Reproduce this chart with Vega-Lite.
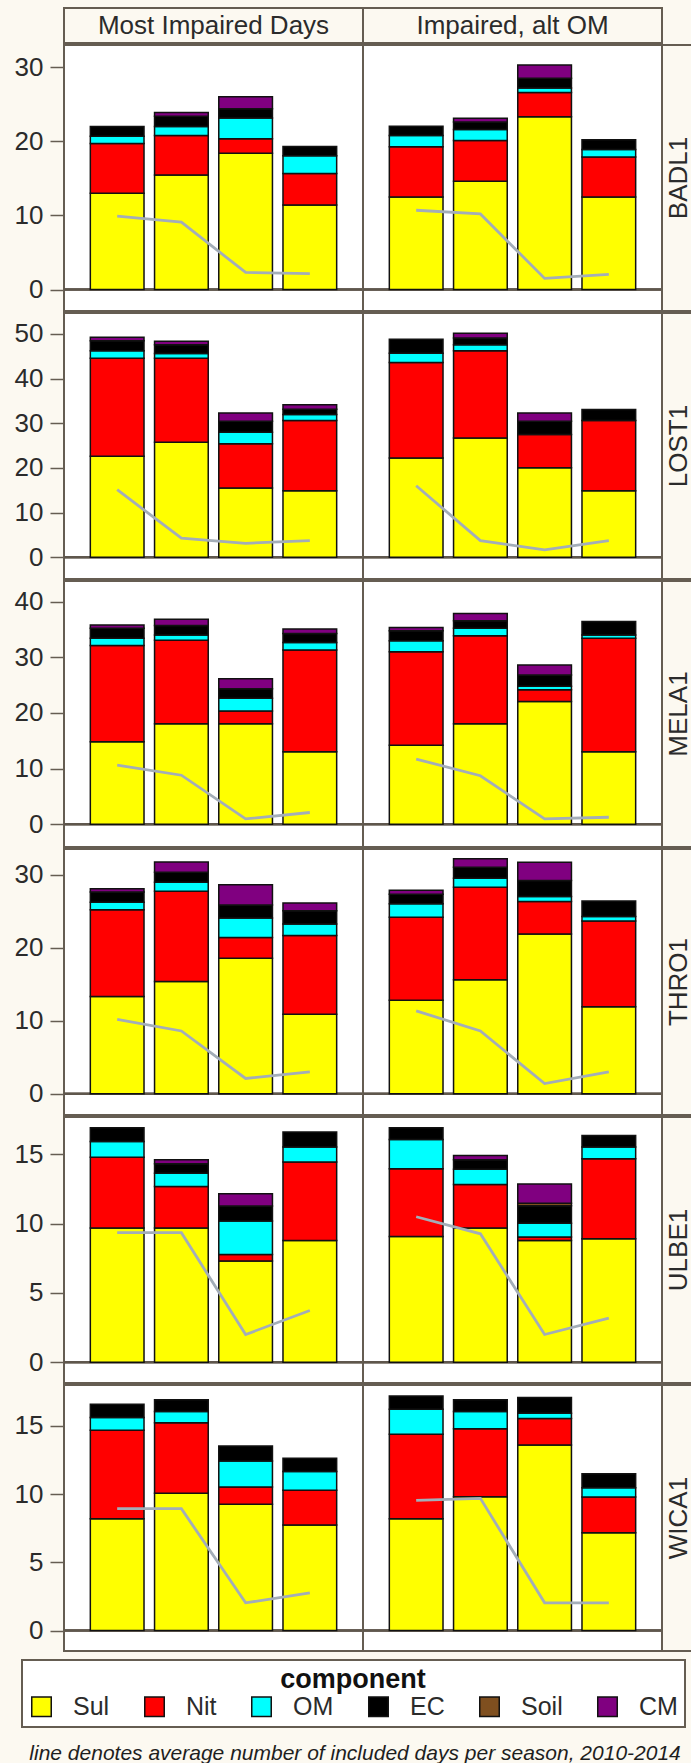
{
  "$schema": "https://vega.github.io/schema/vega-lite/v6.json",
  "background": "#fcf9f1",
  "padding": {"left": 13, "top": 7, "right": 0, "bottom": 0},
  "datasets": {
    "d": [
      {"site":"BADL1","scen":"Most Impaired Days","season":"Winter","Sul":13.0,"Nit":6.7,"OM":1.0,"EC":1.3,"Soil":0,"CM":0,"days":9.9},
      {"site":"BADL1","scen":"Most Impaired Days","season":"Spring","Sul":15.45,"Nit":5.35,"OM":1.2,"EC":1.4,"Soil":0,"CM":0.5,"days":9.1},
      {"site":"BADL1","scen":"Most Impaired Days","season":"Summer","Sul":18.4,"Nit":1.95,"OM":2.8,"EC":1.25,"Soil":0,"CM":1.6,"days":2.3},
      {"site":"BADL1","scen":"Most Impaired Days","season":"Fall","Sul":11.4,"Nit":4.25,"OM":2.4,"EC":1.25,"Soil":0,"CM":0,"days":2.15},
      {"site":"BADL1","scen":"Impaired, alt OM","season":"Winter","Sul":12.5,"Nit":6.76,"OM":1.52,"EC":1.25,"Soil":0,"CM":0,"days":10.7},
      {"site":"BADL1","scen":"Impaired, alt OM","season":"Spring","Sul":14.6,"Nit":5.5,"OM":1.5,"EC":1.0,"Soil":0,"CM":0.5,"days":10.2},
      {"site":"BADL1","scen":"Impaired, alt OM","season":"Summer","Sul":23.3,"Nit":3.3,"OM":0.6,"EC":1.3,"Soil":0,"CM":1.8,"days":1.5},
      {"site":"BADL1","scen":"Impaired, alt OM","season":"Fall","Sul":12.5,"Nit":5.4,"OM":1.0,"EC":1.3,"Soil":0,"CM":0,"days":2.05},
      {"site":"LOST1","scen":"Most Impaired Days","season":"Winter","Sul":22.6,"Nit":21.95,"OM":1.7,"EC":2.25,"Soil":0,"CM":0.75,"days":15.1},
      {"site":"LOST1","scen":"Most Impaired Days","season":"Spring","Sul":25.75,"Nit":18.8,"OM":1.1,"EC":1.95,"Soil":0,"CM":0.75,"days":4.25},
      {"site":"LOST1","scen":"Most Impaired Days","season":"Summer","Sul":15.5,"Nit":9.9,"OM":2.6,"EC":2.45,"Soil":0,"CM":1.85,"days":3.1},
      {"site":"LOST1","scen":"Most Impaired Days","season":"Fall","Sul":14.9,"Nit":15.7,"OM":1.35,"EC":1.2,"Soil":0,"CM":1.0,"days":3.7},
      {"site":"LOST1","scen":"Impaired, alt OM","season":"Winter","Sul":22.2,"Nit":21.4,"OM":2.1,"EC":3.1,"Soil":0,"CM":0,"days":16.0},
      {"site":"LOST1","scen":"Impaired, alt OM","season":"Spring","Sul":26.7,"Nit":19.55,"OM":1.35,"EC":1.5,"Soil":0,"CM":1.05,"days":3.7},
      {"site":"LOST1","scen":"Impaired, alt OM","season":"Summer","Sul":20.0,"Nit":7.46,"OM":0,"EC":3.0,"Soil":0,"CM":1.85,"days":1.65},
      {"site":"LOST1","scen":"Impaired, alt OM","season":"Fall","Sul":14.9,"Nit":15.7,"OM":0,"EC":2.5,"Soil":0,"CM":0,"days":3.7},
      {"site":"MELA1","scen":"Most Impaired Days","season":"Winter","Sul":14.8,"Nit":17.3,"OM":1.3,"EC":1.8,"Soil":0,"CM":0.6,"days":10.6},
      {"site":"MELA1","scen":"Most Impaired Days","season":"Spring","Sul":18.06,"Nit":15.0,"OM":0.95,"EC":1.7,"Soil":0,"CM":1.1,"days":8.8},
      {"site":"MELA1","scen":"Most Impaired Days","season":"Summer","Sul":18.06,"Nit":2.26,"OM":2.3,"EC":1.7,"Soil":0,"CM":1.8,"days":0.95},
      {"site":"MELA1","scen":"Most Impaired Days","season":"Fall","Sul":13.0,"Nit":18.3,"OM":1.36,"EC":1.6,"Soil":0,"CM":0.8,"days":2.1},
      {"site":"MELA1","scen":"Impaired, alt OM","season":"Winter","Sul":14.2,"Nit":16.8,"OM":1.95,"EC":1.8,"Soil":0,"CM":0.6,"days":11.7},
      {"site":"MELA1","scen":"Impaired, alt OM","season":"Spring","Sul":18.06,"Nit":15.8,"OM":1.35,"EC":1.35,"Soil":0,"CM":1.3,"days":8.7},
      {"site":"MELA1","scen":"Impaired, alt OM","season":"Summer","Sul":22.05,"Nit":2.1,"OM":0.65,"EC":2.0,"Soil":0,"CM":1.8,"days":0.95},
      {"site":"MELA1","scen":"Impaired, alt OM","season":"Fall","Sul":13.0,"Nit":20.4,"OM":0.6,"EC":2.4,"Soil":0,"CM":0,"days":1.25},
      {"site":"THRO1","scen":"Most Impaired Days","season":"Winter","Sul":13.3,"Nit":11.9,"OM":1.0,"EC":1.4,"Soil":0,"CM":0.45,"days":10.2},
      {"site":"THRO1","scen":"Most Impaired Days","season":"Spring","Sul":15.36,"Nit":12.35,"OM":1.25,"EC":1.35,"Soil":0,"CM":1.4,"days":8.6},
      {"site":"THRO1","scen":"Most Impaired Days","season":"Summer","Sul":18.56,"Nit":2.84,"OM":2.65,"EC":1.8,"Soil":0,"CM":2.75,"days":2.1},
      {"site":"THRO1","scen":"Most Impaired Days","season":"Fall","Sul":10.9,"Nit":10.75,"OM":1.6,"EC":1.8,"Soil":0,"CM":1.05,"days":3.0},
      {"site":"THRO1","scen":"Impaired, alt OM","season":"Winter","Sul":12.8,"Nit":11.35,"OM":1.85,"EC":1.3,"Soil":0,"CM":0.55,"days":11.35},
      {"site":"THRO1","scen":"Impaired, alt OM","season":"Spring","Sul":15.6,"Nit":12.65,"OM":1.25,"EC":1.5,"Soil":0,"CM":1.15,"days":8.6},
      {"site":"THRO1","scen":"Impaired, alt OM","season":"Summer","Sul":21.86,"Nit":4.44,"OM":0.7,"EC":2.2,"Soil":0,"CM":2.5,"days":1.4},
      {"site":"THRO1","scen":"Impaired, alt OM","season":"Fall","Sul":11.9,"Nit":11.75,"OM":0.6,"EC":2.15,"Soil":0,"CM":0,"days":3.0},
      {"site":"ULBE1","scen":"Most Impaired Days","season":"Winter","Sul":9.68,"Nit":5.12,"OM":1.14,"EC":0.99,"Soil":0,"CM":0,"days":9.35},
      {"site":"ULBE1","scen":"Most Impaired Days","season":"Spring","Sul":9.68,"Nit":3.0,"OM":0.96,"EC":0.68,"Soil":0,"CM":0.29,"days":9.35},
      {"site":"ULBE1","scen":"Most Impaired Days","season":"Summer","Sul":7.3,"Nit":0.48,"OM":2.41,"EC":1.08,"Soil":0,"CM":0.89,"days":2.0},
      {"site":"ULBE1","scen":"Most Impaired Days","season":"Fall","Sul":8.79,"Nit":5.66,"OM":1.08,"EC":1.08,"Soil":0,"CM":0,"days":3.73},
      {"site":"ULBE1","scen":"Impaired, alt OM","season":"Winter","Sul":9.08,"Nit":4.89,"OM":2.11,"EC":0.85,"Soil":0,"CM":0,"days":10.5},
      {"site":"ULBE1","scen":"Impaired, alt OM","season":"Spring","Sul":9.68,"Nit":3.15,"OM":1.09,"EC":0.7,"Soil":0,"CM":0.31,"days":9.27},
      {"site":"ULBE1","scen":"Impaired, alt OM","season":"Summer","Sul":8.79,"Nit":0.24,"OM":1.0,"EC":1.27,"Soil":0.17,"CM":1.4,"days":2.0},
      {"site":"ULBE1","scen":"Impaired, alt OM","season":"Fall","Sul":8.91,"Nit":5.78,"OM":0.84,"EC":0.84,"Soil":0,"CM":0,"days":3.18},
      {"site":"WICA1","scen":"Most Impaired Days","season":"Winter","Sul":8.2,"Nit":6.48,"OM":0.93,"EC":0.98,"Soil":0,"CM":0,"days":8.93},
      {"site":"WICA1","scen":"Most Impaired Days","season":"Spring","Sul":10.06,"Nit":5.18,"OM":0.81,"EC":0.86,"Soil":0,"CM":0,"days":8.93},
      {"site":"WICA1","scen":"Most Impaired Days","season":"Summer","Sul":9.25,"Nit":1.27,"OM":1.91,"EC":1.1,"Soil":0,"CM":0,"days":2.03},
      {"site":"WICA1","scen":"Most Impaired Days","season":"Fall","Sul":7.73,"Nit":2.55,"OM":1.37,"EC":0.98,"Soil":0,"CM":0,"days":2.76},
      {"site":"WICA1","scen":"Impaired, alt OM","season":"Winter","Sul":8.2,"Nit":6.19,"OM":1.83,"EC":0.98,"Soil":0,"CM":0,"days":9.54},
      {"site":"WICA1","scen":"Impaired, alt OM","season":"Spring","Sul":9.81,"Nit":4.99,"OM":1.25,"EC":0.86,"Soil":0,"CM":0,"days":9.69},
      {"site":"WICA1","scen":"Impaired, alt OM","season":"Summer","Sul":13.6,"Nit":1.94,"OM":0.39,"EC":1.15,"Soil":0,"CM":0,"days":2.03},
      {"site":"WICA1","scen":"Impaired, alt OM","season":"Fall","Sul":7.17,"Nit":2.62,"OM":0.68,"EC":1.03,"Soil":0,"CM":0,"days":2.03}
    ],
    "ranks": [
      {"component":"Sul","rank":1},{"component":"Nit","rank":2},{"component":"OM","rank":3},
      {"component":"EC","rank":4},{"component":"Soil","rank":5},{"component":"CM","rank":6}
    ]
  },
  "data": {"name": "d"},
  "title": {"text": "line denotes average number of included days per season, 2010-2014", "orient": "bottom", "anchor": "middle", "font": "Liberation Sans", "fontSize": 21, "fontStyle": "italic", "fontWeight": "normal", "color": "#1e1e1e", "offset": 15},
  "spacing": 0,
  "vconcat": [
    {"hconcat": [
      {"width": 299, "height": 35, "data": {"values": [{"t": "Most Impaired Days"}]}, "view": {"stroke": "#655d52", "strokeWidth": 2}, "mark": {"type": "text", "font": "Liberation Sans", "fontSize": 26, "color": "#2b2b2b", "baseline": "middle"}, "encoding": {"text": {"field": "t"}}},
      {"width": 299, "height": 35, "data": {"values": [{"t": "Impaired, alt OM"}]}, "view": {"stroke": "#655d52", "strokeWidth": 2}, "mark": {"type": "text", "font": "Liberation Sans", "fontSize": 26, "color": "#2b2b2b", "baseline": "middle"}, "encoding": {"text": {"field": "t"}}}
    ], "spacing": 0, "bounds": "flush"},
    {"hconcat": [
      {"width": 299, "height": 266, "view": {"fill": "white", "stroke": "#655d52", "strokeWidth": 2},
       "transform": [{"filter": "datum.site=='BADL1' && datum.scen=='Most Impaired Days'"}],
       "layer": [
        {"mark": {"type": "rule", "color": "#5f574c", "strokeWidth": 2}, "encoding": {"y": {"datum": 0, "type": "quantitative", "title": null}}},
        {"transform": [{"fold": ["Sul","Nit","OM","EC","Soil","CM"], "as": ["component","val"]}, {"filter": "datum.val > 0"}, {"lookup": "component", "from": {"data": {"name": "ranks"}, "key": "component", "fields": ["rank"]}}],
         "mark": {"type": "bar", "stroke": "#111111", "strokeWidth": 1.5},
         "encoding": {
          "x": {"field": "season", "type": "nominal", "scale": {"domain": ["Winter","Spring","Summer","Fall"], "paddingInner": 0.164, "paddingOuter": 0.41}, "axis": null},
          "y": {"field": "val", "type": "quantitative", "stack": "zero", "title": null, "scale": {"domain": [-2.9, 33], "nice": false, "zero": false}, "axis": {"values": [0,10,20,30], "title": null}},
          "color": {"field": "component", "type": "nominal", "title": "component", "scale": {"domain": ["Sul","Nit","OM","EC","Soil","CM"], "range": ["#ffff00","#ff0000","#00ffff","#000000","#7f4f1f","#800080"]}, "legend": {"orient": "none", "legendX": -42, "legendY": 1652, "direction": "horizontal"}},
          "order": {"field": "rank", "type": "quantitative"}}},
        {"mark": {"type": "line", "color": "#a3adb8", "strokeWidth": 2.8}, "encoding": {"x": {"field": "season", "type": "nominal"}, "y": {"field": "days", "type": "quantitative", "title": null}}}
       ]},
      {"width": 299, "height": 266, "view": {"fill": "white", "stroke": "#655d52", "strokeWidth": 2},
       "transform": [{"filter": "datum.site=='BADL1' && datum.scen=='Impaired, alt OM'"}],
       "layer": [
        {"mark": {"type": "rule", "color": "#5f574c", "strokeWidth": 2}, "encoding": {"y": {"datum": 0, "type": "quantitative", "title": null}}},
        {"transform": [{"fold": ["Sul","Nit","OM","EC","Soil","CM"], "as": ["component","val"]}, {"filter": "datum.val > 0"}, {"lookup": "component", "from": {"data": {"name": "ranks"}, "key": "component", "fields": ["rank"]}}],
         "mark": {"type": "bar", "stroke": "#111111", "strokeWidth": 1.5},
         "encoding": {
          "x": {"field": "season", "type": "nominal", "scale": {"domain": ["Winter","Spring","Summer","Fall"], "paddingInner": 0.164, "paddingOuter": 0.41}, "axis": null},
          "y": {"field": "val", "type": "quantitative", "stack": "zero", "title": null, "scale": {"domain": [-2.9, 33], "nice": false, "zero": false}, "axis": {"values": [0,10,20,30], "title": null, "labels": false, "ticks": false}},
          "color": {"field": "component", "type": "nominal", "title": "component", "scale": {"domain": ["Sul","Nit","OM","EC","Soil","CM"], "range": ["#ffff00","#ff0000","#00ffff","#000000","#7f4f1f","#800080"]}},
          "order": {"field": "rank", "type": "quantitative"}}},
        {"mark": {"type": "line", "color": "#a3adb8", "strokeWidth": 2.8}, "encoding": {"x": {"field": "season", "type": "nominal"}, "y": {"field": "days", "type": "quantitative", "title": null}}}
       ]},
      {"width": 34, "height": 266, "data": {"values": [{"t": "BADL1"}]}, "view": {"stroke": "#655d52", "strokeWidth": 2}, "mark": {"type": "text", "angle": 270, "font": "Liberation Sans", "fontSize": 26, "color": "#2b2b2b", "baseline": "middle"}, "encoding": {"text": {"field": "t"}}}
    ], "spacing": 0, "bounds": "flush"},
    {"hconcat": [
      {"width": 299, "height": 266, "view": {"fill": "white", "stroke": "#655d52", "strokeWidth": 2},
       "transform": [{"filter": "datum.site=='LOST1' && datum.scen=='Most Impaired Days'"}],
       "layer": [
        {"mark": {"type": "rule", "color": "#5f574c", "strokeWidth": 2}, "encoding": {"y": {"datum": 0, "type": "quantitative", "title": null}}},
        {"transform": [{"fold": ["Sul","Nit","OM","EC","Soil","CM"], "as": ["component","val"]}, {"filter": "datum.val > 0"}, {"lookup": "component", "from": {"data": {"name": "ranks"}, "key": "component", "fields": ["rank"]}}],
         "mark": {"type": "bar", "stroke": "#111111", "strokeWidth": 1.5},
         "encoding": {
          "x": {"field": "season", "type": "nominal", "scale": {"domain": ["Winter","Spring","Summer","Fall"], "paddingInner": 0.164, "paddingOuter": 0.41}, "axis": null},
          "y": {"field": "val", "type": "quantitative", "stack": "zero", "title": null, "scale": {"domain": [-4.9, 54.7], "nice": false, "zero": false}, "axis": {"values": [0,10,20,30,40,50], "title": null}},
          "color": {"field": "component", "type": "nominal", "title": "component", "scale": {"domain": ["Sul","Nit","OM","EC","Soil","CM"], "range": ["#ffff00","#ff0000","#00ffff","#000000","#7f4f1f","#800080"]}},
          "order": {"field": "rank", "type": "quantitative"}}},
        {"mark": {"type": "line", "color": "#a3adb8", "strokeWidth": 2.8}, "encoding": {"x": {"field": "season", "type": "nominal"}, "y": {"field": "days", "type": "quantitative", "title": null}}}
       ]},
      {"width": 299, "height": 266, "view": {"fill": "white", "stroke": "#655d52", "strokeWidth": 2},
       "transform": [{"filter": "datum.site=='LOST1' && datum.scen=='Impaired, alt OM'"}],
       "layer": [
        {"mark": {"type": "rule", "color": "#5f574c", "strokeWidth": 2}, "encoding": {"y": {"datum": 0, "type": "quantitative", "title": null}}},
        {"transform": [{"fold": ["Sul","Nit","OM","EC","Soil","CM"], "as": ["component","val"]}, {"filter": "datum.val > 0"}, {"lookup": "component", "from": {"data": {"name": "ranks"}, "key": "component", "fields": ["rank"]}}],
         "mark": {"type": "bar", "stroke": "#111111", "strokeWidth": 1.5},
         "encoding": {
          "x": {"field": "season", "type": "nominal", "scale": {"domain": ["Winter","Spring","Summer","Fall"], "paddingInner": 0.164, "paddingOuter": 0.41}, "axis": null},
          "y": {"field": "val", "type": "quantitative", "stack": "zero", "title": null, "scale": {"domain": [-4.9, 54.7], "nice": false, "zero": false}, "axis": {"values": [0,10,20,30,40,50], "title": null, "labels": false, "ticks": false}},
          "color": {"field": "component", "type": "nominal", "title": "component", "scale": {"domain": ["Sul","Nit","OM","EC","Soil","CM"], "range": ["#ffff00","#ff0000","#00ffff","#000000","#7f4f1f","#800080"]}},
          "order": {"field": "rank", "type": "quantitative"}}},
        {"mark": {"type": "line", "color": "#a3adb8", "strokeWidth": 2.8}, "encoding": {"x": {"field": "season", "type": "nominal"}, "y": {"field": "days", "type": "quantitative", "title": null}}}
       ]},
      {"width": 34, "height": 266, "data": {"values": [{"t": "LOST1"}]}, "view": {"stroke": "#655d52", "strokeWidth": 2}, "mark": {"type": "text", "angle": 270, "font": "Liberation Sans", "fontSize": 26, "color": "#2b2b2b", "baseline": "middle"}, "encoding": {"text": {"field": "t"}}}
    ], "spacing": 0, "bounds": "flush"},
    {"hconcat": [
      {"width": 299, "height": 266, "view": {"fill": "white", "stroke": "#655d52", "strokeWidth": 2},
       "transform": [{"filter": "datum.site=='MELA1' && datum.scen=='Most Impaired Days'"}],
       "layer": [
        {"mark": {"type": "rule", "color": "#5f574c", "strokeWidth": 2}, "encoding": {"y": {"datum": 0, "type": "quantitative", "title": null}}},
        {"transform": [{"fold": ["Sul","Nit","OM","EC","Soil","CM"], "as": ["component","val"]}, {"filter": "datum.val > 0"}, {"lookup": "component", "from": {"data": {"name": "ranks"}, "key": "component", "fields": ["rank"]}}],
         "mark": {"type": "bar", "stroke": "#111111", "strokeWidth": 1.5},
         "encoding": {
          "x": {"field": "season", "type": "nominal", "scale": {"domain": ["Winter","Spring","Summer","Fall"], "paddingInner": 0.164, "paddingOuter": 0.41}, "axis": null},
          "y": {"field": "val", "type": "quantitative", "stack": "zero", "title": null, "scale": {"domain": [-4.1, 43.7], "nice": false, "zero": false}, "axis": {"values": [0,10,20,30,40], "title": null}},
          "color": {"field": "component", "type": "nominal", "title": "component", "scale": {"domain": ["Sul","Nit","OM","EC","Soil","CM"], "range": ["#ffff00","#ff0000","#00ffff","#000000","#7f4f1f","#800080"]}},
          "order": {"field": "rank", "type": "quantitative"}}},
        {"mark": {"type": "line", "color": "#a3adb8", "strokeWidth": 2.8}, "encoding": {"x": {"field": "season", "type": "nominal"}, "y": {"field": "days", "type": "quantitative", "title": null}}}
       ]},
      {"width": 299, "height": 266, "view": {"fill": "white", "stroke": "#655d52", "strokeWidth": 2},
       "transform": [{"filter": "datum.site=='MELA1' && datum.scen=='Impaired, alt OM'"}],
       "layer": [
        {"mark": {"type": "rule", "color": "#5f574c", "strokeWidth": 2}, "encoding": {"y": {"datum": 0, "type": "quantitative", "title": null}}},
        {"transform": [{"fold": ["Sul","Nit","OM","EC","Soil","CM"], "as": ["component","val"]}, {"filter": "datum.val > 0"}, {"lookup": "component", "from": {"data": {"name": "ranks"}, "key": "component", "fields": ["rank"]}}],
         "mark": {"type": "bar", "stroke": "#111111", "strokeWidth": 1.5},
         "encoding": {
          "x": {"field": "season", "type": "nominal", "scale": {"domain": ["Winter","Spring","Summer","Fall"], "paddingInner": 0.164, "paddingOuter": 0.41}, "axis": null},
          "y": {"field": "val", "type": "quantitative", "stack": "zero", "title": null, "scale": {"domain": [-4.1, 43.7], "nice": false, "zero": false}, "axis": {"values": [0,10,20,30,40], "title": null, "labels": false, "ticks": false}},
          "color": {"field": "component", "type": "nominal", "title": "component", "scale": {"domain": ["Sul","Nit","OM","EC","Soil","CM"], "range": ["#ffff00","#ff0000","#00ffff","#000000","#7f4f1f","#800080"]}},
          "order": {"field": "rank", "type": "quantitative"}}},
        {"mark": {"type": "line", "color": "#a3adb8", "strokeWidth": 2.8}, "encoding": {"x": {"field": "season", "type": "nominal"}, "y": {"field": "days", "type": "quantitative", "title": null}}}
       ]},
      {"width": 34, "height": 266, "data": {"values": [{"t": "MELA1"}]}, "view": {"stroke": "#655d52", "strokeWidth": 2}, "mark": {"type": "text", "angle": 270, "font": "Liberation Sans", "fontSize": 26, "color": "#2b2b2b", "baseline": "middle"}, "encoding": {"text": {"field": "t"}}}
    ], "spacing": 0, "bounds": "flush"},
    {"hconcat": [
      {"width": 299, "height": 266, "view": {"fill": "white", "stroke": "#655d52", "strokeWidth": 2},
       "transform": [{"filter": "datum.site=='THRO1' && datum.scen=='Most Impaired Days'"}],
       "layer": [
        {"mark": {"type": "rule", "color": "#5f574c", "strokeWidth": 2}, "encoding": {"y": {"datum": 0, "type": "quantitative", "title": null}}},
        {"transform": [{"fold": ["Sul","Nit","OM","EC","Soil","CM"], "as": ["component","val"]}, {"filter": "datum.val > 0"}, {"lookup": "component", "from": {"data": {"name": "ranks"}, "key": "component", "fields": ["rank"]}}],
         "mark": {"type": "bar", "stroke": "#111111", "strokeWidth": 1.5},
         "encoding": {
          "x": {"field": "season", "type": "nominal", "scale": {"domain": ["Winter","Spring","Summer","Fall"], "paddingInner": 0.164, "paddingOuter": 0.41}, "axis": null},
          "y": {"field": "val", "type": "quantitative", "stack": "zero", "title": null, "scale": {"domain": [-2.9, 33.5], "nice": false, "zero": false}, "axis": {"values": [0,10,20,30], "title": null}},
          "color": {"field": "component", "type": "nominal", "title": "component", "scale": {"domain": ["Sul","Nit","OM","EC","Soil","CM"], "range": ["#ffff00","#ff0000","#00ffff","#000000","#7f4f1f","#800080"]}},
          "order": {"field": "rank", "type": "quantitative"}}},
        {"mark": {"type": "line", "color": "#a3adb8", "strokeWidth": 2.8}, "encoding": {"x": {"field": "season", "type": "nominal"}, "y": {"field": "days", "type": "quantitative", "title": null}}}
       ]},
      {"width": 299, "height": 266, "view": {"fill": "white", "stroke": "#655d52", "strokeWidth": 2},
       "transform": [{"filter": "datum.site=='THRO1' && datum.scen=='Impaired, alt OM'"}],
       "layer": [
        {"mark": {"type": "rule", "color": "#5f574c", "strokeWidth": 2}, "encoding": {"y": {"datum": 0, "type": "quantitative", "title": null}}},
        {"transform": [{"fold": ["Sul","Nit","OM","EC","Soil","CM"], "as": ["component","val"]}, {"filter": "datum.val > 0"}, {"lookup": "component", "from": {"data": {"name": "ranks"}, "key": "component", "fields": ["rank"]}}],
         "mark": {"type": "bar", "stroke": "#111111", "strokeWidth": 1.5},
         "encoding": {
          "x": {"field": "season", "type": "nominal", "scale": {"domain": ["Winter","Spring","Summer","Fall"], "paddingInner": 0.164, "paddingOuter": 0.41}, "axis": null},
          "y": {"field": "val", "type": "quantitative", "stack": "zero", "title": null, "scale": {"domain": [-2.9, 33.5], "nice": false, "zero": false}, "axis": {"values": [0,10,20,30], "title": null, "labels": false, "ticks": false}},
          "color": {"field": "component", "type": "nominal", "title": "component", "scale": {"domain": ["Sul","Nit","OM","EC","Soil","CM"], "range": ["#ffff00","#ff0000","#00ffff","#000000","#7f4f1f","#800080"]}},
          "order": {"field": "rank", "type": "quantitative"}}},
        {"mark": {"type": "line", "color": "#a3adb8", "strokeWidth": 2.8}, "encoding": {"x": {"field": "season", "type": "nominal"}, "y": {"field": "days", "type": "quantitative", "title": null}}}
       ]},
      {"width": 34, "height": 266, "data": {"values": [{"t": "THRO1"}]}, "view": {"stroke": "#655d52", "strokeWidth": 2}, "mark": {"type": "text", "angle": 270, "font": "Liberation Sans", "fontSize": 26, "color": "#2b2b2b", "baseline": "middle"}, "encoding": {"text": {"field": "t"}}}
    ], "spacing": 0, "bounds": "flush"},
    {"hconcat": [
      {"width": 299, "height": 266, "view": {"fill": "white", "stroke": "#655d52", "strokeWidth": 2},
       "transform": [{"filter": "datum.site=='ULBE1' && datum.scen=='Most Impaired Days'"}],
       "layer": [
        {"mark": {"type": "rule", "color": "#5f574c", "strokeWidth": 2}, "encoding": {"y": {"datum": 0, "type": "quantitative", "title": null}}},
        {"transform": [{"fold": ["Sul","Nit","OM","EC","Soil","CM"], "as": ["component","val"]}, {"filter": "datum.val > 0"}, {"lookup": "component", "from": {"data": {"name": "ranks"}, "key": "component", "fields": ["rank"]}}],
         "mark": {"type": "bar", "stroke": "#111111", "strokeWidth": 1.5},
         "encoding": {
          "x": {"field": "season", "type": "nominal", "scale": {"domain": ["Winter","Spring","Summer","Fall"], "paddingInner": 0.164, "paddingOuter": 0.41}, "axis": null},
          "y": {"field": "val", "type": "quantitative", "stack": "zero", "title": null, "scale": {"domain": [-1.5, 17.7], "nice": false, "zero": false}, "axis": {"values": [0,5,10,15], "title": null}},
          "color": {"field": "component", "type": "nominal", "title": "component", "scale": {"domain": ["Sul","Nit","OM","EC","Soil","CM"], "range": ["#ffff00","#ff0000","#00ffff","#000000","#7f4f1f","#800080"]}},
          "order": {"field": "rank", "type": "quantitative"}}},
        {"mark": {"type": "line", "color": "#a3adb8", "strokeWidth": 2.8}, "encoding": {"x": {"field": "season", "type": "nominal"}, "y": {"field": "days", "type": "quantitative", "title": null}}}
       ]},
      {"width": 299, "height": 266, "view": {"fill": "white", "stroke": "#655d52", "strokeWidth": 2},
       "transform": [{"filter": "datum.site=='ULBE1' && datum.scen=='Impaired, alt OM'"}],
       "layer": [
        {"mark": {"type": "rule", "color": "#5f574c", "strokeWidth": 2}, "encoding": {"y": {"datum": 0, "type": "quantitative", "title": null}}},
        {"transform": [{"fold": ["Sul","Nit","OM","EC","Soil","CM"], "as": ["component","val"]}, {"filter": "datum.val > 0"}, {"lookup": "component", "from": {"data": {"name": "ranks"}, "key": "component", "fields": ["rank"]}}],
         "mark": {"type": "bar", "stroke": "#111111", "strokeWidth": 1.5},
         "encoding": {
          "x": {"field": "season", "type": "nominal", "scale": {"domain": ["Winter","Spring","Summer","Fall"], "paddingInner": 0.164, "paddingOuter": 0.41}, "axis": null},
          "y": {"field": "val", "type": "quantitative", "stack": "zero", "title": null, "scale": {"domain": [-1.5, 17.7], "nice": false, "zero": false}, "axis": {"values": [0,5,10,15], "title": null, "labels": false, "ticks": false}},
          "color": {"field": "component", "type": "nominal", "title": "component", "scale": {"domain": ["Sul","Nit","OM","EC","Soil","CM"], "range": ["#ffff00","#ff0000","#00ffff","#000000","#7f4f1f","#800080"]}},
          "order": {"field": "rank", "type": "quantitative"}}},
        {"mark": {"type": "line", "color": "#a3adb8", "strokeWidth": 2.8}, "encoding": {"x": {"field": "season", "type": "nominal"}, "y": {"field": "days", "type": "quantitative", "title": null}}}
       ]},
      {"width": 34, "height": 266, "data": {"values": [{"t": "ULBE1"}]}, "view": {"stroke": "#655d52", "strokeWidth": 2}, "mark": {"type": "text", "angle": 270, "font": "Liberation Sans", "fontSize": 26, "color": "#2b2b2b", "baseline": "middle"}, "encoding": {"text": {"field": "t"}}}
    ], "spacing": 0, "bounds": "flush"},
    {"hconcat": [
      {"width": 299, "height": 266, "view": {"fill": "white", "stroke": "#655d52", "strokeWidth": 2},
       "transform": [{"filter": "datum.site=='WICA1' && datum.scen=='Most Impaired Days'"}],
       "layer": [
        {"mark": {"type": "rule", "color": "#5f574c", "strokeWidth": 2}, "encoding": {"y": {"datum": 0, "type": "quantitative", "title": null}}},
        {"transform": [{"fold": ["Sul","Nit","OM","EC","Soil","CM"], "as": ["component","val"]}, {"filter": "datum.val > 0"}, {"lookup": "component", "from": {"data": {"name": "ranks"}, "key": "component", "fields": ["rank"]}}],
         "mark": {"type": "bar", "stroke": "#111111", "strokeWidth": 1.5},
         "encoding": {
          "x": {"field": "season", "type": "nominal", "scale": {"domain": ["Winter","Spring","Summer","Fall"], "paddingInner": 0.164, "paddingOuter": 0.41}, "axis": null},
          "y": {"field": "val", "type": "quantitative", "stack": "zero", "title": null, "scale": {"domain": [-1.5, 18.0], "nice": false, "zero": false}, "axis": {"values": [0,5,10,15], "title": null}},
          "color": {"field": "component", "type": "nominal", "title": "component", "scale": {"domain": ["Sul","Nit","OM","EC","Soil","CM"], "range": ["#ffff00","#ff0000","#00ffff","#000000","#7f4f1f","#800080"]}},
          "order": {"field": "rank", "type": "quantitative"}}},
        {"mark": {"type": "line", "color": "#a3adb8", "strokeWidth": 2.8}, "encoding": {"x": {"field": "season", "type": "nominal"}, "y": {"field": "days", "type": "quantitative", "title": null}}}
       ]},
      {"width": 299, "height": 266, "view": {"fill": "white", "stroke": "#655d52", "strokeWidth": 2},
       "transform": [{"filter": "datum.site=='WICA1' && datum.scen=='Impaired, alt OM'"}],
       "layer": [
        {"mark": {"type": "rule", "color": "#5f574c", "strokeWidth": 2}, "encoding": {"y": {"datum": 0, "type": "quantitative", "title": null}}},
        {"transform": [{"fold": ["Sul","Nit","OM","EC","Soil","CM"], "as": ["component","val"]}, {"filter": "datum.val > 0"}, {"lookup": "component", "from": {"data": {"name": "ranks"}, "key": "component", "fields": ["rank"]}}],
         "mark": {"type": "bar", "stroke": "#111111", "strokeWidth": 1.5},
         "encoding": {
          "x": {"field": "season", "type": "nominal", "scale": {"domain": ["Winter","Spring","Summer","Fall"], "paddingInner": 0.164, "paddingOuter": 0.41}, "axis": null},
          "y": {"field": "val", "type": "quantitative", "stack": "zero", "title": null, "scale": {"domain": [-1.5, 18.0], "nice": false, "zero": false}, "axis": {"values": [0,5,10,15], "title": null, "labels": false, "ticks": false}},
          "color": {"field": "component", "type": "nominal", "title": "component", "scale": {"domain": ["Sul","Nit","OM","EC","Soil","CM"], "range": ["#ffff00","#ff0000","#00ffff","#000000","#7f4f1f","#800080"]}},
          "order": {"field": "rank", "type": "quantitative"}}},
        {"mark": {"type": "line", "color": "#a3adb8", "strokeWidth": 2.8}, "encoding": {"x": {"field": "season", "type": "nominal"}, "y": {"field": "days", "type": "quantitative", "title": null}}}
       ]},
      {"width": 34, "height": 266, "data": {"values": [{"t": "WICA1"}]}, "view": {"stroke": "#655d52", "strokeWidth": 2}, "mark": {"type": "text", "angle": 270, "font": "Liberation Sans", "fontSize": 26, "color": "#2b2b2b", "baseline": "middle"}, "encoding": {"text": {"field": "t"}}}
    ], "spacing": 0, "bounds": "flush"}
  ],
  "config": {
    "font": "Liberation Sans",
    "axis": {"labelFont": "Liberation Sans", "labelFontSize": 26, "labelColor": "#2b2b2b", "tickColor": "#655d52", "tickWidth": 1.5, "tickSize": 14, "labelPadding": 7, "domain": false, "gridColor": "#eee8db", "gridWidth": 1.5},
    "legend": {"orient": "none", "direction": "horizontal", "titleAnchor": "middle", "titleFont": "Liberation Sans", "titleFontSize": 27, "titleFontWeight": "bold", "titleColor": "#111111", "titlePadding": 0, "labelFont": "Liberation Sans", "labelFontSize": 25, "labelColor": "#2b2b2b", "labelOffset": 19, "symbolType": "square", "symbolSize": 380, "symbolStrokeColor": "#111111", "symbolStrokeWidth": 1.5, "symbolOpacity": 1, "columnPadding": 31, "padding": 7, "strokeColor": "#655d52", "strokeWidth": 2, "fillColor": "white"}
  }
}
